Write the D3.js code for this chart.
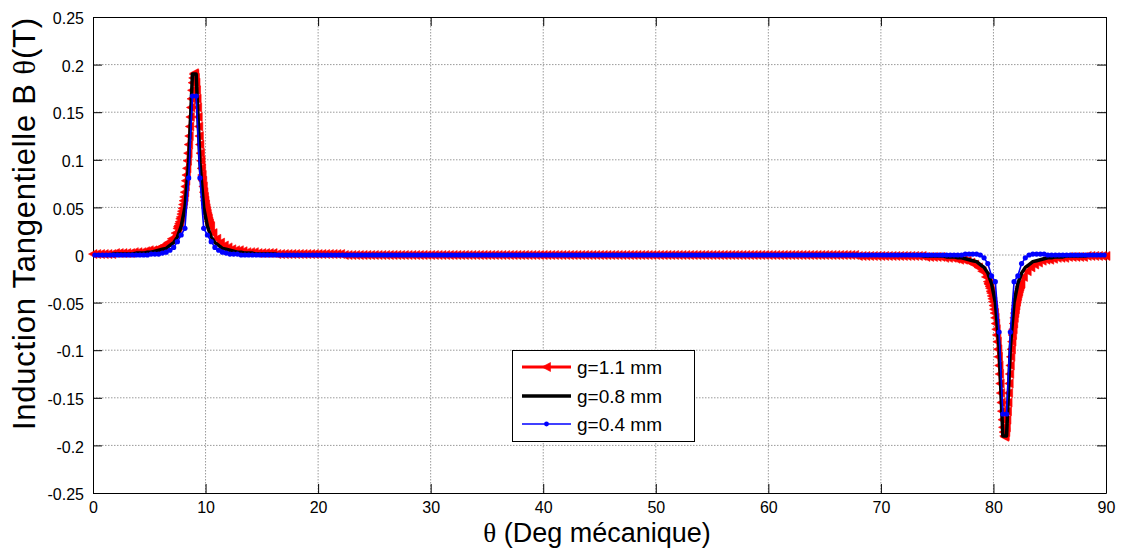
<!DOCTYPE html>
<html>
<head>
<meta charset="utf-8">
<script src="https://cdn.jsdelivr.net/npm/d3@7"></script>
<style>
  html, body { margin: 0; padding: 0; background: #fff; }
  svg { display: block; }
  text { font-family: "Liberation Sans", Arial, sans-serif; fill: #000; }
</style>
</head>
<body>
<svg id="chart" width="1122" height="550"></svg>
<script>
// ---------------- DATA ----------------
// angular sampling grids
// g=1.1 mm: 1/3 degree mesh, refined to 0.05 degree around the two tooth edges
const thetaRed = [].concat(
  d3.range(0, 23).map(k => k / 3),
  d3.range(150, 210).map(k => k / 20),
  d3.range(32, 239).map(k => k / 3),
  d3.range(1590, 1650).map(k => k / 20),
  d3.range(248, 271).map(k => k / 3)
);
// g=0.8 mm and g=0.4 mm: uniform 1/3 degree mesh (mid-cell)
const thetaCoarse = d3.range(270).map(k => (k + 0.5) / 3);

const xTicks = [0, 10, 20, 30, 40, 50, 60, 70, 80, 90];
const xTickLabels = ["0", "10", "20", "30", "40", "50", "60", "70", "80", "90"];
const yTicks = [-0.25, -0.2, -0.15, -0.1, -0.05, 0, 0.05, 0.1, 0.15, 0.2, 0.25];
const yTickLabels = ["-0.25", "-0.2", "-0.15", "-0.1", "-0.05", "0", "0.05", "0.1", "0.15", "0.2", "0.25"];

const seriesNames = ["g=1.1 mm", "g=0.8 mm", "g=0.4 mm"];

// g = 1.1 mm
const bG11 = [
  // 0 .. 7.33 deg
  0.001,0.001,0.001,0.001,0.001,0.001,0.002,0.002,0.002,0.002,0.002,0.003,0.003,0.003,0.004,0.005,0.005,0.006,0.008,0.010,0.013,0.017,0.023,
  // 7.5 .. 10.45 deg
  0.028,0.030,0.031,0.033,0.035,0.038,0.040,0.043,0.046,0.049,0.053,0.057,0.061,0.066,0.072,0.078,0.084,0.091,0.099,0.107,
  0.116,0.125,0.135,0.145,0.155,0.164,0.173,0.181,0.186,0.190,0.191,
  0.190,0.186,0.181,0.173,0.164,0.155,0.145,0.135,0.125,0.116,0.107,0.099,0.091,0.084,0.078,0.072,0.066,0.061,0.057,0.053,
  0.049,0.046,0.043,0.040,0.038,0.035,0.033,0.031,0.030,
  // 10.67 .. 79.33 deg
  0.023,0.017,0.013,0.010,0.008,0.006,0.005,0.005,0.004,0.003,0.003,0.003,0.002,0.002,0.002,0.002,0.002,0.001,0.001,0.001,0.001,0.001,0.001,
  0.001,0.001,0.001,0.001,0.001,0.001,0.001,0.001,0.001,0.001,0.001,0.001,
  0,0,0,0,0,0,0,0,0,0,0,0,0,0,0,0,0,0,0,0,
  0,0,0,0,0,0,0,0,0,0,0,0,0,0,0,0,0,0,0,0,
  0,0,0,0,0,0,0,0,0,0,0,0,0,0,0,0,0,0,0,0,
  0,0,0,0,0,0,0,0,0,0,0,0,0,0,0,0,0,0,0,0,
  0,0,0,0,0,0,0,0,0,0,0,0,0,0,0,0,0,0,0,0,
  0,0,0,0,0,0,0,0,0,0,0,0,0,0,0,0,0,0,0,0,
  0,0,0,0,0,0,0,0,0,0,0,0,0,0,0,0,0,
  -0.001,-0.001,-0.001,-0.001,-0.001,-0.001,-0.001,-0.001,-0.001,-0.001,-0.001,-0.001,
  -0.001,-0.001,-0.001,-0.001,-0.001,-0.001,-0.002,-0.002,-0.002,-0.002,-0.002,-0.003,-0.003,-0.003,-0.004,-0.005,-0.005,-0.006,-0.008,-0.010,-0.013,-0.017,-0.023,
  // 79.5 .. 82.45 deg
  -0.028,-0.030,-0.031,-0.033,-0.035,-0.038,-0.040,-0.043,-0.046,-0.049,-0.053,-0.057,-0.061,-0.066,-0.072,-0.078,-0.084,-0.091,-0.099,-0.107,
  -0.116,-0.125,-0.135,-0.145,-0.155,-0.164,-0.173,-0.181,-0.186,-0.190,-0.191,
  -0.190,-0.186,-0.181,-0.173,-0.164,-0.155,-0.145,-0.135,-0.125,-0.116,-0.107,-0.099,-0.091,-0.084,-0.078,-0.072,-0.066,-0.061,-0.057,-0.053,
  -0.049,-0.046,-0.043,-0.040,-0.038,-0.035,-0.033,-0.031,-0.030,
  // 82.67 .. 90 deg
  -0.023,-0.017,-0.013,-0.010,-0.008,-0.006,-0.005,-0.005,-0.004,-0.003,-0.003,-0.003,-0.002,-0.002,-0.002,-0.002,-0.002,-0.001,-0.001,-0.001,-0.001,-0.001,-0.001
];

// g = 0.8 mm
const bG08 = [
  0,0,0,0,0,0.001,0.001,0.001,0.001,0.001,0.001,0.002,0.002,0.002,0.003,0.003,0.004,0.005,0.006,0.007,0.010,0.013,0.019,0.030,0.050,0.097,0.190,
  0.190,0.097,0.050,0.030,0.019,0.013,0.010,0.007,0.006,0.005,0.004,0.003,0.003,0.002,0.002,0.002,0.001,0.001,0.001,0.001,0.001,0.001,0,0,0,0,0,
  0,0,0,0,0,0,0,0,0,0, 0,0,0,0,0,0,0,0,0,0, 0,0,0,0,0,0,0,0,0,0, 0,0,0,0,0,0,0,0,0,0,
  0,0,0,0,0,0,0,0,0,0, 0,0,0,0,0,0,0,0,0,0, 0,0,0,0,0,0,0,0,0,0, 0,0,0,0,0,0,0,0,0,0,
  0,0,0,0,0,0,0,0,0,0, 0,0,0,0,0,0,0,0,0,0, 0,0,0,0,0,0,0,0,0,0, 0,0,0,0,0,0,0,0,0,0,
  0,0,0,0,0,0,0,0,0,0, 0,0,0,0,0,0,0,0,0,0, 0,0,0,0,0,0,0,0,0,0, 0,0,0,0,0,0,0,0,0,0,
  0,0,
  0,0,0,0,0,-0.001,-0.001,-0.001,-0.001,-0.001,-0.001,-0.002,-0.002,-0.002,-0.003,-0.003,-0.004,-0.005,-0.006,-0.007,-0.010,-0.013,-0.019,-0.030,-0.050,-0.097,-0.190,
  -0.190,-0.097,-0.050,-0.030,-0.019,-0.013,-0.010,-0.007,-0.006,-0.005,-0.004,-0.003,-0.003,-0.002,-0.002,-0.002,-0.001,-0.001,-0.001,-0.001,-0.001,-0.001,0,0,0,0,0
];

// g = 0.4 mm
const bG04 = [
  0,0,0,0,0,0,0,0,0,0,0,0,0,0,0,0.001,0.001,0.001,0.002,0.003,0.005,0.008,0.014,0.021,0.028,0.081,0.167,
  0.167,0.081,0.028,0.021,0.014,0.008,0.005,0.003,0.002,0.001,0.001,0.001,0,0,0,0,0,0,0,0,0,0,0,0,0,0,0,
  0,0,0,0,0,0,0,0,0,0, 0,0,0,0,0,0,0,0,0,0, 0,0,0,0,0,0,0,0,0,0, 0,0,0,0,0,0,0,0,0,0,
  0,0,0,0,0,0,0,0,0,0, 0,0,0,0,0,0,0,0,0,0, 0,0,0,0,0,0,0,0,0,0, 0,0,0,0,0,0,0,0,0,0,
  0,0,0,0,0,0,0,0,0,0, 0,0,0,0,0,0,0,0,0,0, 0,0,0,0,0,0,0,0,0,0, 0,0,0,0,0,0,0,0,0,0,
  0,0,0,0,0,0,0,0,0,0, 0,0,0,0,0,0,0,0,0,0, 0,0,0,0,0,0,0,0,0,0, 0,0,0,0,0,0,0,0,0,0,
  0,0,
  0,0,0,0,0,0,0,0,0,0,0,0,0,0,0,0,0.001,0.001,0.001,0.001,0,-0.003,-0.009,-0.022,-0.028,-0.081,-0.167,
  -0.167,-0.081,-0.028,-0.022,-0.009,-0.003,0,0.001,0.001,0.001,0.001,0,0,0,0,0,0,0,0,0,0,0,0,0,0,0,0
];

if (bG11.length !== thetaRed.length) throw new Error("bG11 length " + bG11.length + " vs " + thetaRed.length);
[bG08, bG04].forEach((a, i) => {
  if (a.length !== thetaCoarse.length) throw new Error("series " + i + " length " + a.length);
});

// ---------------- LAYOUT ----------------
const svg = d3.select("#chart");
const plot = { left: 93, right: 1106, top: 17, bottom: 493 };
const x = d3.scaleLinear().domain([0, 90]).range([plot.left, plot.right]);
const y = d3.scaleLinear().domain([-0.25, 0.25]).range([plot.bottom, plot.top]);

// grid
const grid = svg.append("g").attr("stroke", "#9a9a9a").attr("stroke-width", 1)
  .attr("stroke-dasharray", "1.5,1.5");
xTicks.slice(1, -1).forEach(t => {
  grid.append("line").attr("x1", x(t)).attr("x2", x(t)).attr("y1", plot.top).attr("y2", plot.bottom);
});
yTicks.slice(1, -1).forEach(t => {
  grid.append("line").attr("x1", plot.left).attr("x2", plot.right).attr("y1", y(t)).attr("y2", y(t));
});

// axes (ticks inward, box)
const tl = 9;
const axB = svg.append("g").attr("transform", `translate(0,${plot.bottom})`)
  .call(d3.axisBottom(x).tickValues(xTicks).tickSizeInner(-tl).tickSizeOuter(0)
    .tickFormat((d, i) => xTickLabels[i]).tickPadding(12));
const axT = svg.append("g").attr("transform", `translate(0,${plot.top})`)
  .call(d3.axisTop(x).tickValues(xTicks).tickSizeInner(-tl).tickSizeOuter(0).tickFormat(""));
const axL = svg.append("g").attr("transform", `translate(${plot.left},0)`)
  .call(d3.axisLeft(y).tickValues(yTicks).tickSizeInner(-tl).tickSizeOuter(0)
    .tickFormat((d, i) => yTickLabels[i]).tickPadding(18));
const axR = svg.append("g").attr("transform", `translate(${plot.right},0)`)
  .call(d3.axisRight(y).tickValues(yTicks).tickSizeInner(-tl).tickSizeOuter(0).tickFormat(""));
[axB, axT, axL, axR].forEach(a => {
  a.select(".domain").attr("stroke", "#000").attr("stroke-width", 1);
  a.selectAll(".tick line").attr("stroke", "#000");
  a.selectAll("text").style("font-size", "16px").style("font-family", "'Liberation Sans', Arial, sans-serif").attr("fill", "#000");
});
axB.selectAll("text").attr("dy", "0.71em").attr("y", 9);
axL.selectAll("text").attr("dy", "0.42em").attr("x", -9);

// ---------------- SERIES ----------------
const pts = (th, arr) => arr.map((v, i) => [th[i], v]);
const line = d3.line().x(d => x(d[0])).y(d => y(d[1]));
const layer = svg.append("g");

const triPath = "M-4.5,0L4,-4.5L4,4.5Z";

// red g=1.1
const redPts = pts(thetaRed, bG11);
layer.append("path").datum(redPts).attr("d", line)
  .attr("fill", "none").attr("stroke", "#ff0000").attr("stroke-width", 2.5).attr("stroke-linejoin", "round");
layer.append("g").selectAll("path").data(redPts).join("path")
  .attr("d", triPath).attr("transform", d => `translate(${x(d[0])},${y(d[1])})`)
  .attr("fill", "#ff0000").attr("stroke", "#ff0000").attr("stroke-width", 0.6);

// black g=0.8
layer.append("path").datum(pts(thetaCoarse, bG08)).attr("d", line)
  .attr("fill", "none").attr("stroke", "#000").attr("stroke-width", 3.5).attr("stroke-linejoin", "round");

// blue g=0.4
const bluePts = pts(thetaCoarse, bG04);
layer.append("path").datum(bluePts).attr("d", line)
  .attr("fill", "none").attr("stroke", "#0000ff").attr("stroke-width", 1.6).attr("stroke-linejoin", "round");
layer.append("g").selectAll("circle").data(bluePts).join("circle")
  .attr("cx", d => x(d[0])).attr("cy", d => y(d[1])).attr("r", 2.6).attr("fill", "#0000ff");

// ---------------- LEGEND ----------------
const lg = svg.append("g");
lg.append("rect").attr("x", 512.5).attr("y", 350.5).attr("width", 182).attr("height", 91)
  .attr("fill", "#fff").attr("stroke", "#000").attr("stroke-width", 1);
const rows = [367, 396, 424];
const lx1 = 522, lx2 = 571, lxm = 546.5;
lg.append("line").attr("x1", lx1).attr("x2", lx2).attr("y1", rows[0]).attr("y2", rows[0]).attr("stroke", "#ff0000").attr("stroke-width", 3);
lg.append("path").attr("d", triPath).attr("transform", `translate(${lxm},${rows[0]})`).attr("fill", "#ff0000").attr("stroke", "#ff0000").attr("stroke-width", 0.6);
lg.append("line").attr("x1", lx1).attr("x2", lx2).attr("y1", rows[1]).attr("y2", rows[1]).attr("stroke", "#000").attr("stroke-width", 3.5);
lg.append("line").attr("x1", lx1).attr("x2", lx2).attr("y1", rows[2]).attr("y2", rows[2]).attr("stroke", "#0000ff").attr("stroke-width", 1.3);
lg.append("circle").attr("cx", lxm).attr("cy", rows[2]).attr("r", 2.4).attr("fill", "#0000ff");
seriesNames.forEach((n, i) => {
  lg.append("text").attr("x", 577).attr("y", rows[i] + 7).style("font-size", "19px").text(n);
});

// ---------------- TITLES ----------------
const xt = svg.append("text").attr("x", 597).attr("y", 542).attr("text-anchor", "middle").style("font-size", "27px");
xt.append("tspan").style("font-family", "'Liberation Serif', 'Times New Roman', serif").text("θ");
xt.append("tspan").text(" (Deg mécanique)");

const yt = svg.append("text").attr("transform", "translate(35,224) rotate(-90)")
  .attr("text-anchor", "middle").style("font-size", "31px")
  .attr("textLength", 412).attr("lengthAdjust", "spacing");
yt.append("tspan").text("Induction Tangentielle B");
yt.append("tspan").style("font-family", "'Liberation Serif', 'Times New Roman', serif").text(" θ");
yt.append("tspan").text("(T)");
</script>
</body>
</html>
